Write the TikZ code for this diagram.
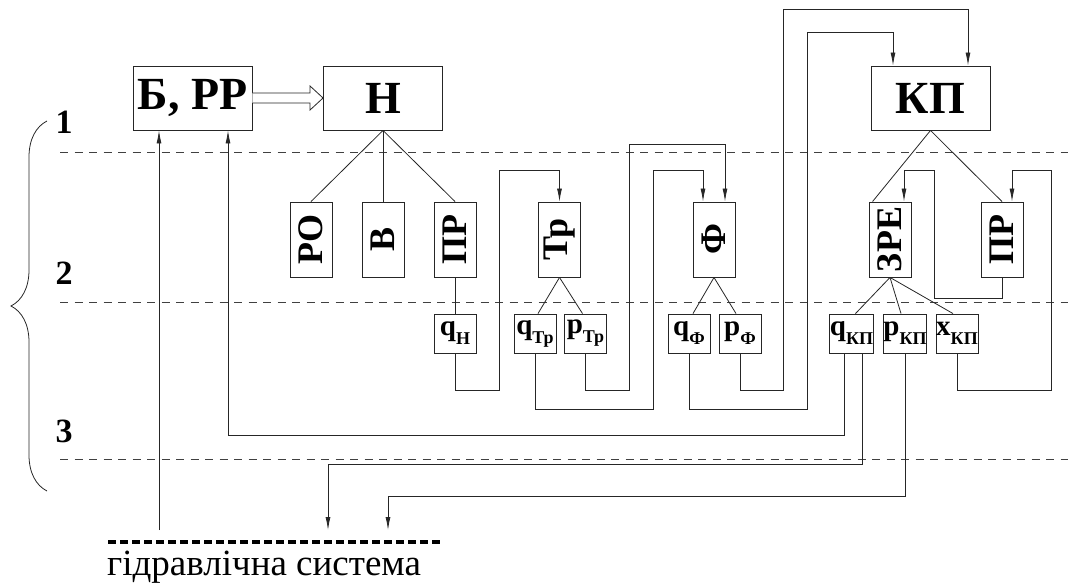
\documentclass[tikz,border=0pt]{standalone}
\usepackage{fontspec}
\setmainfont{Liberation Serif}
\usetikzlibrary{arrows.meta,decorations.pathreplacing,calc}

\newcommand\lowidx[1]{\raisebox{-9pt}{\fontsize{18}{18}\selectfont#1}}

\begin{document}
\begin{tikzpicture}[
    x=1pt, y=-1pt,
    box/.style={draw=black!85, line width=0.9pt, inner sep=0pt, minimum width=119pt, minimum height=64pt, font=\bfseries\fontsize{46}{46}\selectfont},
    vbox/.style={draw=black!85, line width=0.9pt, inner sep=0pt, minimum width=42pt, minimum height=75pt, font=\bfseries\fontsize{36}{36}\selectfont},
    sbox/.style={draw=black!85, line width=0.9pt, inner sep=0pt, minimum width=42pt, minimum height=39pt, font=\bfseries\fontsize{29}{29}\selectfont},
    lvl/.style={font=\bfseries\fontsize{34}{34}\selectfont},
    link/.style={draw=black!85, line width=0.8pt},
    sig/.style={link, -{Latex[length=13pt,width=5pt]}},
]
\useasboundingbox (0,0) rectangle (1068,583);

% Level borders
\foreach \y in {152,302,459}
  \draw[black!75, line width=0.8pt, dash pattern=on 8pt off 6.5pt] (60,\y) -- (1068,\y);

% Levels and brace
\node[lvl] (l1) at (64,122) {1};
\node[lvl] (l2) at (64,273) {2};
\node[lvl] (l3) at (64,431) {3};
\draw[link, decorate, decoration={brace, amplitude=36pt}] (47,491) -- (47,121);

% Top row
\node[box] (bp) at (192.5,98) {Б, РР};
\node[box] (n) at (383,98) {Н};
\node[box] (kp) at (930.5,98) {КП};

% Second row
\node[vbox] (ro) at (311,239.5) {\rotatebox{90}{РО}};
\node[vbox] (v) at (383,239.5) {\rotatebox{90}{В}};
\node[vbox] (pr) at (455,239.5) {\rotatebox{90}{ПР}};
\node[vbox] (tr) at (559.5,239.5) {\rotatebox{90}{Тр}};
\node[vbox] (f) at (714,239.5) {\rotatebox{90}{Ф}};
\node[vbox] (zre) at (890,239.5) {\rotatebox{90}{ЗРЕ}};
\node[vbox] (pr2) at (1002,239.5) {\rotatebox{90}{ПР}};

% Third row
\node[sbox] (qn) at (455,333.5) {q\lowidx{Н}};
\node[sbox] (qtr) at (535,333.5) {q\lowidx{Тр}};
\node[sbox] (ptr) at (585.5,333.5) {p\lowidx{Тр}};
\node[sbox] (qf) at (689,333.5) {q\lowidx{Ф}};
\node[sbox] (pf) at (740,333.5) {p\lowidx{Ф}};
\node[sbox] (qkp) at (851.5,333.5) {q\lowidx{КП}};
\node[sbox] (pkp) at (905,333.5) {p\lowidx{КП}};
\node[sbox] (xkp) at (957,333.5) {x\lowidx{КП}};

% Hydraulic system
\draw[line width=4pt, dash pattern=on 8pt off 4pt] (108,542) -- (442,542);
\node[anchor=base west, inner sep=0pt, font=\fontsize{37}{37}\selectfont] (hs) at (107,575) {гідравлічна система};
\coordinate (out1) at (159,530);
\coordinate (in1) at (328,530);
\coordinate (in2) at (388,530);

% Pump drive
\draw[link, fill=white] ($(bp.east)+(0,-5)$) -- ($(n.west)+(-13,-5)$) -- ($(n.west)+(-13,-12)$) -- (n.west)
  -- ($(n.west)+(-13,12)$) -- ($(n.west)+(-13,5)$) -- ($(bp.east)+(0,5)$);

% Structure lines
\draw[link] (n.south) -- (ro.north);
\draw[link] (n.south) -- (v.north);
\draw[link] (n.south) -- (pr.north);
\draw[link] (pr.south) -- (qn.north);
\draw[link] (tr.south) -- ($(qtr.north)+(3,0)$);
\draw[link] (tr.south) -- ($(ptr.north)+(-3,0)$);
\draw[link] (f.south) -- ($(qf.north)+(4,0)$);
\draw[link] (f.south) -- ($(pf.north)+(-4,0)$);
\draw[link] (kp.south) -- ($(zre.north west)+(4,0)$);
\draw[link] (kp.south) -- (pr2.north);
\draw[link] (zre.south) -- ($(qkp.north)+(4,0)$);
\draw[link] (zre.south) -- ($(pkp.north)+(-4,0)$);
\draw[link] (zre.south) -- ($(xkp.north)+(-4,0)$);

% Loops between the elements
\draw[sig] (qn.south) |- (499,390) |- ($(tr.north)+(0,-31)$) -- (tr.north);
\draw[sig] (qtr.south) |- (653,409) |- ($(f.north)+(-11,-31)$) -- ++(0,31);
\draw[sig] (ptr.south) |- (629,390) |- ($(f.north)+(11,-57)$) -- ++(0,57);
\draw[sig] (qf.south) |- (807,409) |- ($(kp.north)+(-37.5,-33)$) -- ++(0,33);
\draw[sig] (pf.south) |- (783,390) |- ($(kp.north)+(37.5,-56)$) -- ++(0,56);
\draw[sig] (pr2.south) |- (934,298) |- ($(zre.north)+(14,-31)$) -- ++(0,31);
\draw[sig] (xkp.south) |- (1051,390) |- ($(pr2.north)+(10,-31)$) -- ++(0,31);

% Links to the system and to Б, РР
\draw[sig] (out1) -- (bp.south -| out1);
\draw[sig] ($(qkp.south)+(-7.5,0)$) |- (228,435) -- (bp.south -| 228,0);
\draw[sig] ($(qkp.south)+(10.5,0)$) |- (in1 |- 0,464) -- (in1);
\draw[sig] (pkp.south) |- (in2 |- 0,496) -- (in2);

\end{tikzpicture}
\end{document}
